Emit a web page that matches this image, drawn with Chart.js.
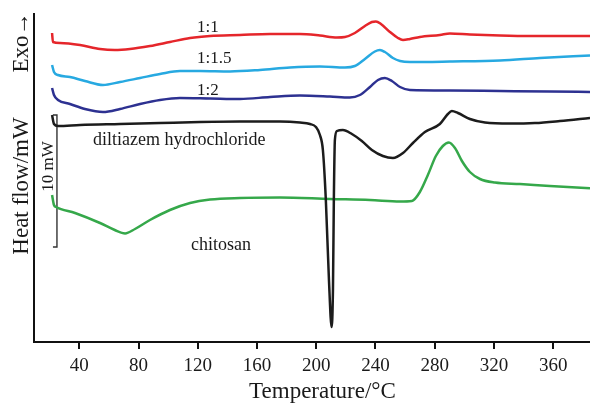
<!DOCTYPE html>
<html><head><meta charset="utf-8">
<script src="https://cdn.jsdelivr.net/npm/chart.js@4.4.1/dist/chart.umd.min.js"></script>
<style>html,body{margin:0;padding:0;background:#fff}#wrap{width:590px;height:403px}</style>
</head><body><div id="wrap"><canvas id="c" width="590" height="403"></canvas></div>
<script>
// x tick labels (°C)
const xTicks = [40, 80, 120, 160, 200, 240, 280, 320, 360];
// Series (temperature °C, heat flow in arbitrary offset units)
const T_1_1  = [21.6,22.2,27.0,40.5,54.0,63.9,74.2,87.7,101.2,114.8,128.3,148.5,168.8,189.0,202.5,214.0,219.4,226.1,232.9,237.6,240.3,243.7,249.8,255.2,258.6,263.3,270.0,283.5,290.3,303.8,324.1,344.4,364.6,384.9];
const HF_1_1 = [309,300,299,297,293,292,293,296,300,304,306,307,308,308,306.5,304.5,305,309,316,320,320.5,318,310,304,302,303,305,307,308.5,307.5,306.5,306,306,306];
const T_1_15  = [21.6,22.9,25.6,33.7,43.8,56.0,67.5,81.0,94.5,108.0,121.5,141.8,162.0,182.3,202.5,219.4,226.1,232.9,239.6,243.0,246.4,251.8,256.6,263.3,290.3,324.1,351.1,384.9];
const HF_1_15 = [277,270,267,265,261,257,260,264,268,271,271,270.5,272,274.5,275.5,274.5,276,283,290.5,292,290,284,281,280,280.5,281.5,284,286.5];
const T_1_2  = [21.6,22.9,25.6,33.7,43.8,56.0,67.5,81.0,94.5,108.0,128.3,148.5,168.8,189.0,209.2,222.7,229.5,236.3,241.7,246.4,251.1,256.6,263.3,290.3,324.1,357.8,384.9];
const HF_1_2 = [254,247,242,238,233,230,233,238,242,244,243.5,243,245,246.5,245.5,244.5,247,255,262,264,261,255,252,251.5,251,250.5,250];
const T_dil  = [21.6,22.9,25.6,40.5,67.5,94.5,121.5,148.5,175.5,189.0,195.8,199.8,202.5,204.5,206.5,208.6,210.4,211.3,211.9,212.6,214.0,218.0,224.1,230.8,237.6,245.0,251.8,258.6,265.3,273.4,283.5,288.9,291.6,295.7,303.8,314.0,330.8,347.7,364.6,384.9];
const HF_dil = [227,218,216,217,218,219,220,220.5,220.5,219.5,218,215,207,192,142,62,15,52,142,202,211,212,208,201,192,186,184,189,199,210,218,228,231,229,223,219.5,218.5,219,221,224];
const T_chi  = [21.6,22.9,24.3,37.1,54.0,63.9,70.9,77.6,87.7,101.2,114.8,128.3,148.5,175.5,209.2,236.3,256.6,264.6,270.0,275.4,280.8,285.5,289.6,293.7,298.4,303.8,310.6,320.7,337.6,357.8,384.9];
const HF_chi = [147,137,135,129,119,112,108.5,113,122,132,139,142.5,144,144.5,143,142,140.5,141,150,167,186,196,199.5,194,181,170,163,159.5,158,156,153.7];
// 10 mW scale bar
const scaleBarT  = [22.2, 24.9, 24.9, 22.2];
const scaleBarHF = [227, 227, 95, 95];

const seriesNames = ['1:1', '1:1.5', '1:2', 'diltiazem hydrochloride', 'chitosan'];
const seriesColors = ['#e5262b', '#27a9e1', '#2d3191', '#1c1c1c', '#35a84a'];
const seriesT = [T_1_1, T_1_15, T_1_2, T_dil, T_chi];
const seriesHF = [HF_1_1, HF_1_15, HF_1_2, HF_dil, HF_chi];

const datasets = seriesNames.map((n, i) => ({
  label: n,
  data: seriesT[i].map((t, k) => ({x: t, y: seriesHF[i][k]})),
  borderColor: seriesColors[i],
  borderWidth: 2.5,
  pointRadius: 0,
  cubicInterpolationMode: 'monotone',
  fill: false
}));
datasets.push({
  label: '10 mW',
  data: scaleBarT.map((t, k) => ({x: t, y: scaleBarHF[k]})),
  borderColor: '#333',
  borderWidth: 1.4,
  pointRadius: 0,
  tension: 0,
  fill: false
});

const SERIF = '"Liberation Serif", "Times New Roman", serif';
const textPlugin = {
  id: 'txt',
  afterDraw(chart) {
    const ctx = chart.ctx;
    ctx.save();
    ctx.fillStyle = '#1a1a1a';
    ctx.textBaseline = 'alphabetic';
    ctx.textAlign = 'left';
    ctx.font = '17px ' + SERIF;
    ctx.fillText('1:1', 197, 31.5);
    ctx.fillText('1:1.5', 197, 62.5);
    ctx.fillText('1:2', 197, 94.5);
    ctx.font = '18px ' + SERIF;
    ctx.fillText('diltiazem hydrochloride', 93, 145);
    ctx.fillText('chitosan', 191, 250);
    ctx.textAlign = 'center';
    ctx.font = '23px ' + SERIF;
    ctx.fillText('Temperature/°C', 322.5, 398);
    // rotated texts
    ctx.save();
    ctx.translate(28, 186);
    ctx.rotate(-Math.PI / 2);
    ctx.fillText('Heat flow/mW', 0, 0);
    ctx.restore();
    ctx.save();
    ctx.translate(28, 42.5);
    ctx.rotate(-Math.PI / 2);
    ctx.fillText('Exo\u2192', 0, 0);
    ctx.restore();
    ctx.save();
    ctx.translate(53, 166.5);
    ctx.rotate(-Math.PI / 2);
    ctx.font = '17px ' + SERIF;
    ctx.fillText('10 mW', 0, 0);
    ctx.restore();
    ctx.restore();
  }
};

new Chart(document.getElementById('c'), {
  type: 'line',
  data: {datasets},
  options: {
    responsive: false,
    devicePixelRatio: 1,
    animation: false,
    layout: {padding: {top: 14, right: 0, left: 0, bottom: 0}},
    plugins: {legend: {display: false}, tooltip: {enabled: false}},
    scales: {
      x: {
        type: 'linear',
        min: 9.4, max: 384.9,
        afterBuildTicks: s => { s.ticks = xTicks.map(v => ({value: v})); },
        afterFit: s => { s.height = 61; },
        grid: {display: true, drawOnChartArea: false, drawTicks: true, tickLength: 7, color: '#111', lineWidth: 2},
        border: {display: true, color: '#111', width: 2},
        ticks: {color: '#1a1a1a', font: {family: SERIF, size: 19}, padding: 6, maxRotation: 0, autoSkip: false}
      },
      y: {
        type: 'linear',
        min: 0, max: 328,
        afterFit: s => { s.width = 34; },
        grid: {display: false},
        border: {display: true, color: '#111', width: 2},
        ticks: {display: false}
      }
    }
  },
  plugins: [textPlugin]
});
</script>
</body></html>
